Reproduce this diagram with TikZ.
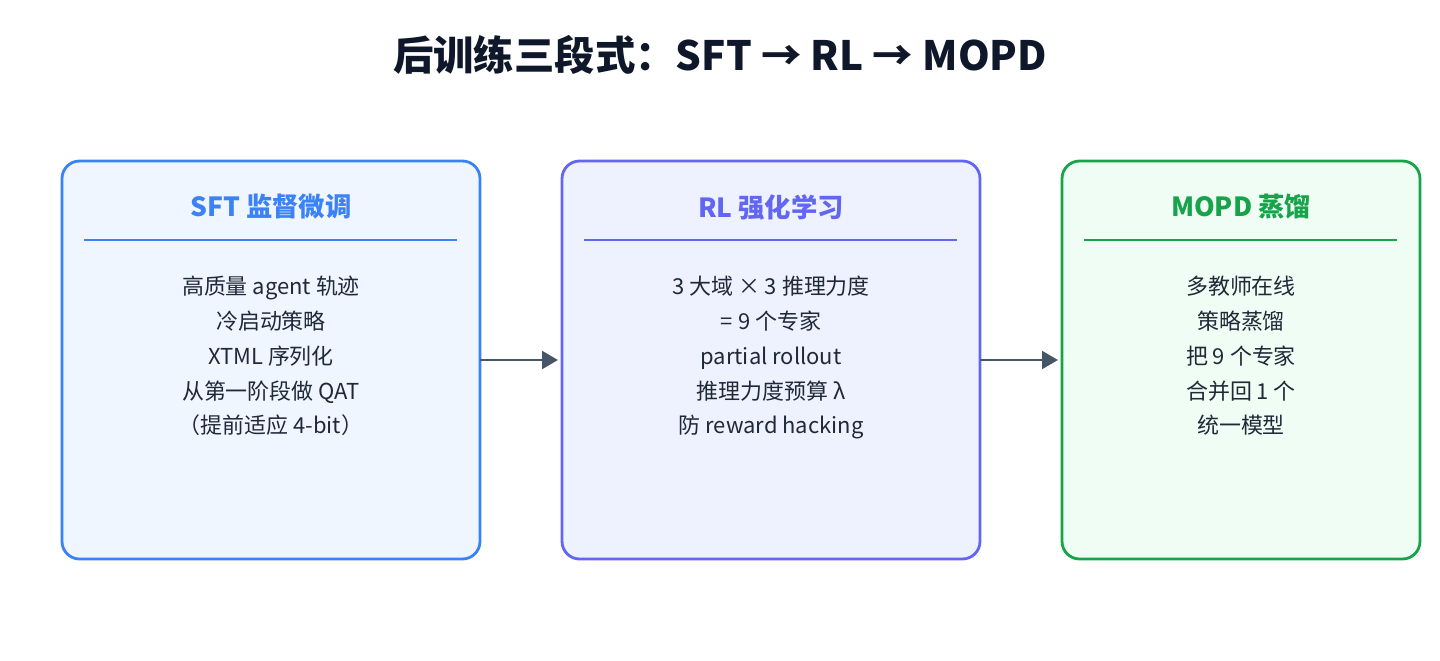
\documentclass[tikz,border=0pt]{standalone}
\usepackage{fontspec}
\setmainfont{Noto Sans CJK SC}
\usetikzlibrary{arrows.meta}
\definecolor{inkdark}{HTML}{0F172A}
\definecolor{inkbody}{HTML}{1F2937}
\definecolor{sftline}{HTML}{3B82F6}
\definecolor{sftfill}{HTML}{EFF6FF}
\definecolor{rlline}{HTML}{6366F1}
\definecolor{rlfill}{HTML}{EEF2FF}
\definecolor{mopdline}{HTML}{16A34A}
\definecolor{mopdfill}{HTML}{F0FDF4}
\definecolor{flowgray}{HTML}{475569}
\begin{document}
\begin{tikzpicture}[x=0.02cm,y=-0.02cm]
% stage box and text styles
\tikzset{
  stagebox/.style={draw, line width=1.6pt, rounded corners=10pt},
  headtxt/.style={font=\fontsize{15}{18}\selectfont\bfseries},
  bodytxt/.style={font=\fontsize{12.5}{19.8}\selectfont, text=inkbody, align=center, anchor=north},
  flow/.style={draw=flowgray, line width=1.6pt, -{Triangle[length=9pt,width=10pt]}}
}
\useasboundingbox (0,0) rectangle (1440,660);
\node[font=\fontsize{23}{28}\selectfont\bfseries, text=inkdark] (title) at (720,55) {后训练三段式：SFT → RL → MOPD};

% stage boxes
\draw[stagebox, draw=sftline, fill=sftfill] (62,161) rectangle (480,559);
\draw[stagebox, draw=rlline, fill=rlfill] (562,161) rectangle (980,559);
\draw[stagebox, draw=mopdline, fill=mopdfill] (1062,161) rectangle (1420,559);
\coordinate (sftR) at (480,360);
\coordinate (rlL) at (558,360);
\coordinate (rlR) at (980,360);
\coordinate (mopdL) at (1058,360);

% headings and rules
\node[headtxt, text=sftline] (sfthead) at (271,207) {SFT 监督微调};
\node[headtxt, text=rlline] (rlhead) at (771,207) {RL 强化学习};
\node[headtxt, text=mopdline] (mopdhead) at (1241,207) {MOPD 蒸馏};
\draw[sftline, line width=1pt] (84,240) -- (457,240);
\draw[rlline, line width=1pt] (584,240) -- (957,240);
\draw[mopdline, line width=1pt] (1084,240) -- (1397,240);

% body texts
\node[bodytxt] (sftbody) at (271,270) {高质量 agent 轨迹\\冷启动策略\\XTML 序列化\\从第一阶段做 QAT\\（提前适应 4-bit）};
\node[bodytxt] (rlbody) at (771,270) {3 大域 × 3 推理力度\\= 9 个专家\\partial rollout\\推理力度预算 λ\\防 reward hacking};
\node[bodytxt] (mopdbody) at (1241,270) {多教师在线\\策略蒸馏\\把 9 个专家\\合并回 1 个\\统一模型};

% flow arrows
\draw[flow] (sftR) -- (rlL);
\draw[flow] (rlR) -- (mopdL);
\end{tikzpicture}
\end{document}
